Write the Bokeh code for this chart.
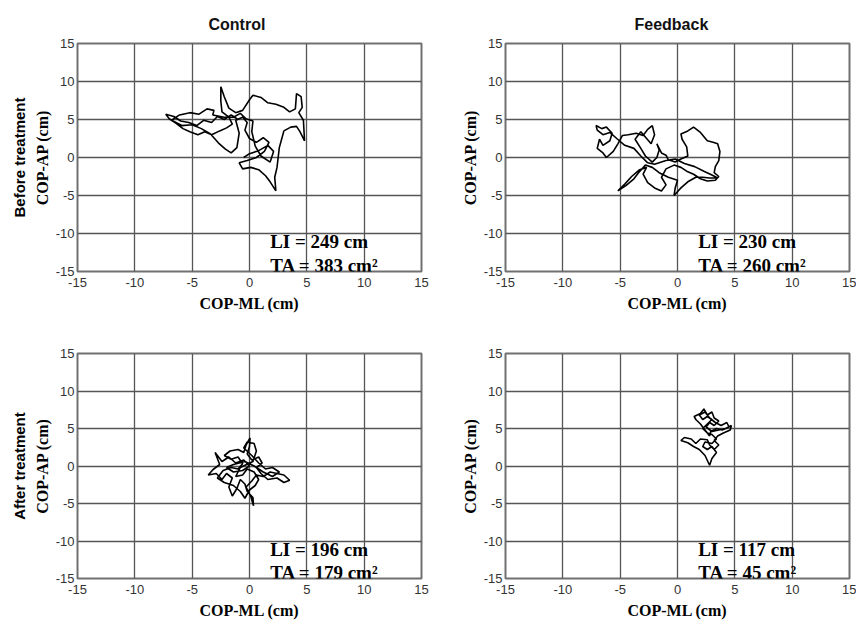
from bokeh.plotting import figure
from bokeh.layouts import gridplot
from bokeh.models import Range1d, FixedTicker, LinearAxis, Label
from bokeh.embed import file_html
from bokeh.resources import INLINE

ticks = [-15, -10, -5, 0, 5, 10, 15]
tick_labels = {t: str(t) for t in ticks}
panel_titles = ["Control", "Feedback"]
row_labels = ["Before treatment", "After treatment"]
li_values = [249, 230, 196, 117]
ta_values = [383, 260, 179, 45]

# Control, before treatment
ctrl_before_x = [-1.0, -1.6, -2.2, -2.8, -3.3, -4.0, -4.6, -5.3, -6.0, -6.6, -7.3, -7.0, -6.4, -5.8, -5.2,
                 -4.5, -3.9, -3.3, -2.6, -2.0, -1.5, -1.8, -2.4, -2.5, -2.5, -2.2, -1.8, -1.2, -0.6, 0.0,
                 0.3, 1.0, 1.6, 2.3, 3.0, 3.5, 4.0, 4.1, 4.5, 4.6, 4.3, 4.7, 4.8, 4.4, 4.1, 3.6, 3.0, 2.8,
                 2.6, 2.5, 2.4, 2.2, 2.3, 1.8, 1.4, 0.8, 0.1, -0.6, -0.9, -0.2, 0.6, 1.3, 1.7, 1.2, 0.6,
                 0.0, -0.4, -0.2, -0.6, -1.2, -0.9, -1.1, -1.6, -2.1, -2.7, -3.4, -4.2, -5.0, -5.9, -6.8,
                 -6.1, -5.2, -4.4, -3.7, -3.1, -3.2, -2.2, -1.4, -0.8, -0.3, 0.3, 0.2, 0.5, 1.0, 1.8, 2.1,
                 1.6, 0.8, 0.0, -0.5]
ctrl_before_y = [5.0, 5.6, 5.0, 5.4, 4.6, 4.9, 4.2, 4.6, 4.8, 5.4, 5.7, 5.1, 4.5, 3.8, 3.4,
                 3.0, 3.4, 3.0, 3.5, 3.9, 4.4, 5.3, 6.0, 7.4, 9.3, 8.0, 6.5, 5.9, 6.2, 7.6,
                 8.2, 7.9, 7.2, 7.0, 6.6, 6.0, 6.4, 8.4, 8.0, 6.6, 5.9, 4.9, 2.2, 3.4, 4.1, 4.0, 3.5, 2.4,
                 1.3, 0.0, -1.3, -2.6, -4.4, -3.2, -2.4, -1.6, -1.3, -1.5, -0.7, -0.4, 0.0, 0.8, 2.0, 2.6, 2.0,
                 2.5, 3.6, 4.6, 5.3, 4.9, 3.2, 1.3, 0.6, 1.1, 1.9, 3.1, 3.8, 4.3, 4.2, 4.9,
                 5.6, 5.9, 5.7, 6.4, 6.2, 5.6, 5.3, 5.3, 5.8, 5.1, 4.8, 3.4, 1.5, 0.2, -0.6, 0.8,
                 1.6, 0.9, 0.5, 0.0]

# Feedback, before treatment
fb_before_x = [-2.6, -3.2, -3.8, -4.6, -5.3, -5.9, -6.5, -7.0, -7.1, -6.6, -6.2, -5.7, -5.9, -6.5, -6.8,
               -7.0, -6.5, -6.2, -5.6, -5.2, -4.8, -4.3, -3.6, -3.0, -2.6, -2.2, -2.0, -2.3, -3.2, -3.7,
               -3.2, -2.8, -2.2, -1.8, -1.6, -1.8, -1.4, -1.0, -0.8, -0.2, 0.3, 0.9, 0.8, 0.4, 0.3,
               0.9, 1.4, 2.0, 2.6, 3.1, 3.5, 3.7, 3.6, 3.3, 3.2, 3.6, 3.3, 2.6, 2.0, 1.4, 0.8, 0.3,
               -0.3, -1.0, -1.4, -1.0, -1.4, -2.0, -2.6, -3.0, -2.7, -3.3, -4.0, -4.6, -5.2, -4.5, -3.8,
               -3.4, -2.8, -2.2, -1.6, -0.8, 0.0, -0.2, -0.3, 0.3, 0.9, 1.6, 2.2, 2.8, 3.5, 3.0, 2.3,
               1.5, 0.6, -0.2, -1.0, -2.0, -2.6]
fb_before_y = [-0.7, 0.2, 1.2, 1.6, 2.5, 3.3, 3.0, 3.6, 4.2, 3.8, 4.0, 3.2, 2.2, 1.6, 2.4,
               1.2, 0.6, 0.0, 0.8, 1.8, 2.9, 3.0, 3.2, 2.9, 3.7, 4.2, 3.0, 1.8, 3.4, 2.4,
               1.2, 0.2, -0.6, 0.0, 1.0, 1.8, 0.6, 0.3, -0.3, -0.6, -0.2, 0.2, 1.4, 2.4, 3.1,
               3.5, 4.0, 3.3, 2.2, 2.0, 1.8, 0.8, -0.4, -1.2, -2.0, -2.5, -3.0, -3.1, -2.8, -2.2, -1.8, -1.3,
               -1.0, -1.5, -2.6, -3.6, -4.4, -4.0, -3.3, -2.2, -1.3, -1.6, -2.5, -3.5, -4.4, -3.7, -2.8,
               -2.0, -1.0, -1.3, -2.0, -2.6, -3.0, -4.0, -5.0, -4.0, -3.2, -2.6, -2.6, -2.7, -2.7, -2.3, -1.8,
               -1.2, -0.8, -0.2, -0.4, -0.9, -0.7]

# Control, after treatment
ctrl_after_x = [0.0, -0.5, -1.2, -1.8, -2.4, -3.0, -2.6, -3.2, -3.6, -2.9, -2.4, -2.0, -1.5, -1.8, -1.5,
                -1.1, -0.8, -0.4, -0.2, 0.3, 0.35, 0.1, -0.3, 0.2, 0.6, 1.2, 1.8, 2.4, 3.0, 3.5, 3.0,
                2.4, 1.6, 1.0, 0.6, 1.1, 0.8, 0.2, -0.2, 0.0, 0.05, -0.3, -0.5, -1.0, -1.7, -2.2, -1.6,
                -1.0, -0.6, -1.0, -1.6, -2.3, -2.8, -2.2, -1.4, -0.8, -0.4, 0.0, 0.5, 0.8, 0.4, -0.2,
                -0.6, -1.2, -0.8, 0.3, 0.6, 0.4, -0.2, -0.5, 0.2, 0.8, 1.4, 2.0, 2.6, 2.0, 1.2, 0.4,
                -0.4, -1.4, -2.0, -1.4, -0.6, 0.0]
ctrl_after_y = [0.0, 0.8, 0.4, 1.2, 0.6, 1.8, 0.2, -0.5, -1.2, -1.0, -1.8, -1.0, -1.6, -2.8, -4.0,
                -3.0, -1.8, -2.4, -3.4, -4.2, -5.3, -4.0, -2.8, -2.0, -1.2, -1.4, -0.8, -1.0, -1.2, -1.9, -2.2,
                -1.6, -1.8, -1.0, -0.2, 0.4, 1.2, 0.8, 1.6, 2.6, 3.75, 2.8, 1.8, 2.2, 2.0, 1.4, 0.9,
                1.2, 0.3, -0.4, -0.2, -0.6, -1.6, -2.2, -2.6, -3.4, -4.3, -3.2, -2.6, -1.8, -0.8, -0.4,
                -1.2, -1.4, -0.2, 0.6, 2.0, 3.0, 3.2, 2.4, 1.4, 0.4, -0.4, -0.2, -0.8, -1.4, -0.8, 0.0,
                0.6, 0.2, -0.2, -0.8, -0.6, 0.0]

# Feedback, after treatment
fb_after_x = [2.8, 2.4, 2.0, 1.6, 1.45, 2.0, 2.3, 2.6, 3.0, 3.2, 3.6, 3.2, 2.8, 2.5, 3.0, 3.6, 4.2,
              4.7, 4.6, 4.0, 3.5, 3.2, 3.6, 3.2, 2.8, 2.6, 2.0, 1.6, 1.2, 0.6, 0.3, 0.9, 1.4, 1.9,
              2.4, 2.8, 3.0, 3.4, 3.0, 2.6, 2.2, 2.4, 3.0, 3.4, 3.0, 2.6, 2.2, 2.6, 3.0, 2.6, 2.2,
              1.9, 2.4, 2.8, 3.3, 3.8, 4.3, 4.5, 3.9, 3.4, 2.9, 2.8]
fb_after_y = [4.0, 4.8, 5.6, 6.2, 6.6, 7.0, 7.6, 6.8, 7.2, 6.4, 6.0, 5.4, 5.8, 5.2, 4.6, 4.8, 5.0,
              5.4, 4.8, 4.4, 4.0, 3.4, 2.8, 2.2, 2.8, 3.5, 3.6, 3.0, 3.6, 3.8, 3.4, 3.1, 2.6, 2.2,
              1.4, 0.1, 1.0, 1.8, 2.6, 2.2, 2.6, 3.2, 3.0, 3.6, 4.2, 4.4, 5.0, 5.6, 6.2, 6.6, 6.2,
              6.8, 7.2, 6.4, 5.8, 5.4, 5.8, 5.2, 4.8, 5.0, 4.6, 4.0]

SANS = "Liberation Sans"
SERIF = "Liberation Serif"
FRAME_W = 344
FRAME_H = 228


def make_panel(xs, ys, li, ta, title, title_offset, row_label, bl, bt, br, bb):
    p = figure(width=bl + FRAME_W + br, height=bt + FRAME_H + bb,
               x_range=Range1d(-15, 15), y_range=Range1d(-15, 15),
               output_backend="svg", toolbar_location=None,
               min_border_left=bl, min_border_top=bt,
               min_border_right=br, min_border_bottom=bb,
               background_fill_color="white", border_fill_color="white",
               outline_line_color="#707070", outline_line_width=2)
    p.line(xs, ys, line_color="black", line_width=1.6)
    for ax in (p.xaxis[0], p.yaxis[0]):
        ax.ticker = FixedTicker(ticks=ticks)
        ax.major_label_overrides = tick_labels
        ax.major_tick_out = 0
        ax.major_tick_in = 0
        ax.minor_tick_out = 0
        ax.minor_tick_in = 0
        ax.axis_line_color = None
        ax.major_label_text_font = SANS
        ax.major_label_text_font_size = "13px"
        ax.major_label_text_color = "#333333"
        ax.axis_label_text_font = SERIF
        ax.axis_label_text_font_style = "bold"
        ax.axis_label_text_font_size = "16px"
        ax.axis_label_text_color = "black"
    p.xaxis[0].major_label_standoff = 6
    p.xaxis[0].axis_label_standoff = 5
    p.yaxis[0].major_label_standoff = 3
    p.yaxis[0].axis_label_standoff = 2
    p.xaxis[0].axis_label = "COP-ML (cm)"
    p.yaxis[0].axis_label = "COP-AP (cm)"
    p.xgrid.grid_line_color = "#555555"
    p.ygrid.grid_line_color = "#555555"
    p.xgrid.grid_line_width = 1.3
    p.ygrid.grid_line_width = 1.3

    if row_label:
        ax2 = LinearAxis(axis_label=row_label, ticker=FixedTicker(ticks=[]),
                         axis_line_color=None, major_tick_out=0, major_tick_in=0,
                         minor_tick_out=0, minor_tick_in=0,
                         major_label_text_font_size="0px",
                         axis_label_text_font=SANS, axis_label_text_font_style="bold",
                         axis_label_text_font_size="15px", axis_label_text_color="black",
                         axis_label_standoff=3)
        p.add_layout(ax2, "left")

    if title:
        p.title.text = title
        p.title.align = "left"
        p.title.text_font = SANS
        p.title.text_font_style = "bold"
        p.title.text_font_size = "16px"
        p.title.text_color = "#111111"
        p.title.offset = title_offset
        p.title.standoff = 22
    else:
        p.title.text_font_size = "4px"
        p.title.standoff = 0

    p.add_layout(Label(x=1.8, y=-11.1, text=f"LI = {li} cm", text_font=SERIF,
                       text_font_style="bold", text_font_size="19px",
                       text_baseline="middle", text_color="black"))
    p.add_layout(Label(x=1.8, y=-14.2, text=f"TA = {ta} cm\u00b2", text_font=SERIF,
                       text_font_style="bold", text_font_size="19px",
                       text_baseline="middle", text_color="black"))
    return p


p1 = make_panel(ctrl_before_x, ctrl_before_y, li_values[0], ta_values[0],
                panel_titles[0], 131, row_labels[0], 77, 43, 20, 52)
p2 = make_panel(fb_before_x, fb_before_y, li_values[1], ta_values[1],
                panel_titles[1], 129, None, 64, 43, 7, 52)
p3 = make_panel(ctrl_after_x, ctrl_after_y, li_values[2], ta_values[2],
                None, 0, row_labels[1], 77, 30, 20, 40)
p4 = make_panel(fb_after_x, fb_after_y, li_values[3], ta_values[3],
                None, 0, None, 64, 30, 7, 40)

grid = gridplot([[p1, p2], [p3, p4]], toolbar_location=None)

open("out.html", "w").write(file_html(grid, INLINE))
